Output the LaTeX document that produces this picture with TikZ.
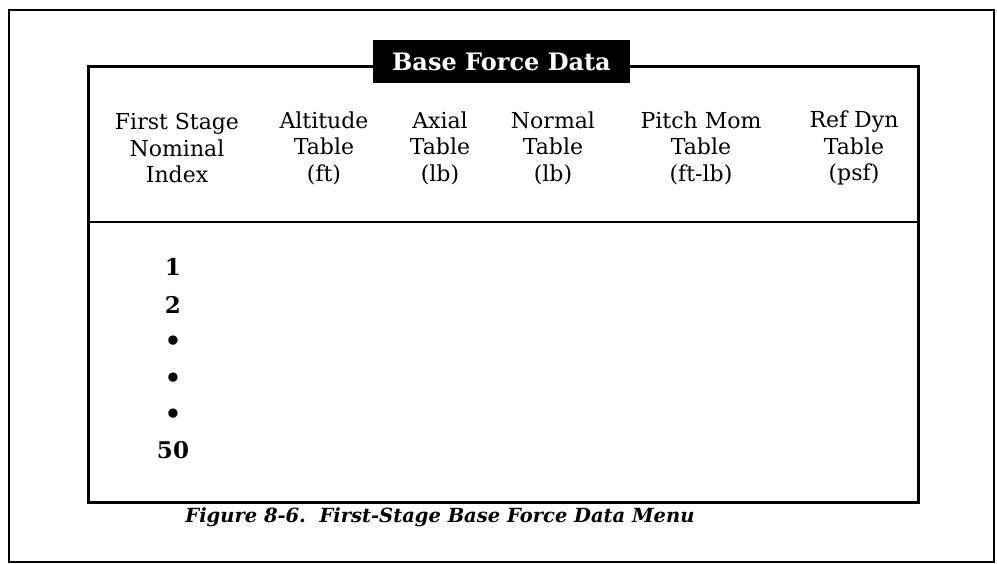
\documentclass[tikz,border=0pt]{standalone}
\usepackage{fontspec}
\setmainfont{DejaVu Serif}
\usetikzlibrary{positioning}

\begin{document}
\begin{tikzpicture}[x=1pt,y=-1pt]
      \tikzset{
        colhead/.style={align=center, inner sep=0pt,
                        font=\fontsize{22}{26.5}\selectfont},
        rowlabel/.style={inner sep=0pt, font=\bfseries\fontsize{23}{24}\selectfont},
        rowdot/.style={inner sep=0pt, font=\fontsize{32}{32}\selectfont},
        titlebox/.style={fill=black, text=white, inner sep=0pt,
                         minimum width=257pt, minimum height=43pt,
                         font=\bfseries\fontsize{24}{26}\selectfont},
        caption/.style={inner sep=0pt, font=\bfseries\itshape\fontsize{19.5}{22}\selectfont}
      }

      \useasboundingbox (0,0) rectangle (997,564);

      % frames
      \coordinate (outerNW) at (9,10);
      \coordinate (outerSE) at (994,562);
      \coordinate (boxNW) at (88,67);
      \coordinate (boxSE) at (918,502);
      \coordinate (ruleW) at (88,222);
      \coordinate (ruleE) at (918,222);
      \draw[line width=2pt] (outerNW) rectangle (outerSE);
      \draw[line width=3pt] (boxNW) rectangle (boxSE);
      \draw[line width=2.5pt] (ruleW) -- (ruleE);

      \node[titlebox] (title) at (501.5,62) {Base Force Data};

      % column headings
      \node[colhead] (hindex) at (177,148) {First Stage\\Nominal\\Index};
      \node[colhead] (halt)   at (324,148) {Altitude\\Table\\(ft)};
      \node[colhead] (haxial) at (440,148) {Axial\\Table\\(lb)};
      \node[colhead] (hnorm)  at (553,148) {Normal\\Table\\(lb)};
      \node[colhead] (hpitch) at (701,148) {Pitch Mom\\Table\\(ft-lb)};
      \node[colhead] (hdyn)   at (854,148) {Ref Dyn\\Table\\(psf)};

      % index entries
      \node[rowlabel] (row1)  at (173,267) {1};
      \node[rowlabel] (row2)  at (173,305) {2};
      \node[rowdot]   (dotA)  at (173,344) {\textbullet};
      \node[rowdot]   (dotB)  at (173,381) {\textbullet};
      \node[rowdot]   (dotC)  at (173,417) {\textbullet};
      \node[rowlabel] (row50) at (173,450) {50};

      \node[caption] (cap) at (440,517) {Figure 8-6.\ \ First-Stage Base Force Data Menu};

    \end{tikzpicture}
\end{document}
